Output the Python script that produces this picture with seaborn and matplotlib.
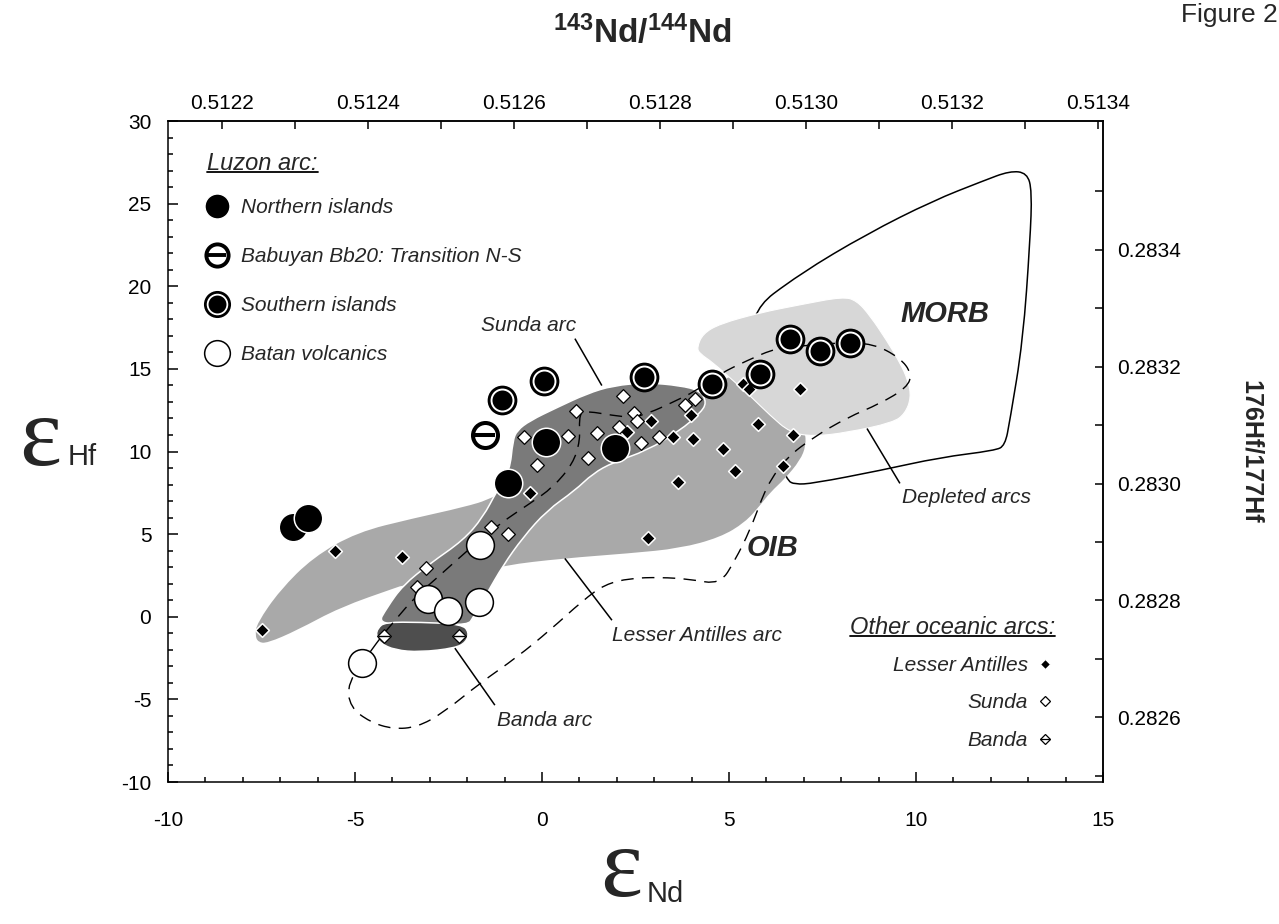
import numpy as np
import pandas as pd
import matplotlib
matplotlib.use("Agg")
import matplotlib.pyplot as plt
import seaborn as sns
from matplotlib.lines import Line2D
from matplotlib.path import Path
from matplotlib.patches import PathPatch
from matplotlib.ticker import MultipleLocator, FixedLocator, FormatStrFormatter
from matplotlib.transforms import IdentityTransform

# ---------------- data (eps Nd, eps Hf) ----------------
CHUR_ND = 0.512638
CHUR_HF = 0.282772

north_end = [-6.66, -6.26, -0.91, 0.11, 1.95]
north_ehf = [5.41, 5.95, 8.07, 10.60, 10.24]
babuyan_end = [-1.52]
babuyan_ehf = [10.97]
south_end = [-1.07, 0.05, 2.73, 4.55, 5.83, 6.63, 7.43, 8.24]
south_ehf = [13.14, 14.29, 14.53, 14.11, 14.71, 16.83, 16.10, 16.59]
batan_end = [-1.66, -3.05, -2.51, -1.68, -4.81]
batan_ehf = [4.32, 1.06, 0.33, 0.88, -2.81]

lant_end = [-7.49, -5.53, -3.74, -0.32, 2.27, 2.91, 3.50, 3.98, 4.04, 4.84,
            5.16, 3.64, 5.37, 5.53, 6.90, 6.71, 6.44, 5.78, 2.83]
lant_ehf = [-0.82, 3.96, 3.60, 7.46, 11.15, 11.87, 10.85, 12.18, 10.73, 10.18,
            8.85, 8.13, 14.11, 13.81, 13.81, 10.97, 9.15, 11.69, 4.74]
sunda_end = [-0.48, -0.13, 0.70, 0.91, 1.23, 1.47, 2.06, 2.17, 2.46, 2.54,
             2.65, 3.13, 3.82, 4.09, -1.36, -0.91, -3.10, -3.34]
sunda_ehf = [10.85, 9.21, 10.91, 12.48, 9.58, 11.09, 11.51, 13.38, 12.30, 11.87,
             10.54, 10.85, 12.84, 13.20, 5.41, 4.98, 2.93, 1.78]
banda_end = [-4.22, -2.22]
banda_ehf = [-1.18, -1.18]

# fields (outline vertices)
morb_x = [6.55, 6.10, 5.83, 5.48, 6.90, 8.69, 10.45, 11.79, 12.51, 12.97, 13.10,
          13.05, 12.86, 12.51, 12.38, 12.11, 10.64, 9.04, 7.25, 6.76]
morb_y = [8.25, 10.66, 14.29, 18.34, 20.76, 23.17, 25.17, 26.37, 26.98, 26.86, 25.77,
          22.75, 16.71, 11.87, 10.36, 10.06, 9.64, 8.85, 8.07, 8.01]
depl_x = [4.14, 4.30, 4.76, 5.83, 6.90, 8.05, 8.42, 8.77, 9.22, 9.57, 9.79, 9.87,
          9.71, 9.39, 8.16, 7.25, 6.63, 6.10, 5.56, 5.11, 4.57, 4.22]
depl_y = [16.28, 17.13, 17.73, 18.40, 18.88, 19.37, 19.12, 18.22, 16.71, 15.38, 14.29, 13.26,
          12.30, 11.75, 11.15, 10.91, 11.15, 12.18, 13.38, 14.29, 15.38, 15.92]
oib_x = [-7.67, -7.62, -7.01, -6.12, -4.95, -3.45, -2.11, -1.31, 0.48, 2.09, 3.69, 4.41,
         4.95, 5.56, 6.63, 7.03, 7.06, 6.90, 6.50, 6.10, 5.83, 5.43, 4.76, 3.69, 2.35,
         0.56, -1.04, -1.93, -3.72, -3.88, -5.40, -6.55, -7.35, -7.59]
oib_y = [-1.12, -0.39, 1.60, 3.60, 5.11, 5.95, 6.62, 7.16, 9.46, 11.57, 13.08, 13.69,
         14.53, 14.77, 13.08, 11.27, 10.36, 9.46, 8.37, 7.52, 6.74, 5.71, 4.80, 4.14, 3.84,
         3.53, 3.11, 2.51, 1.90, 1.78, 0.57, -0.82, -1.60, -1.54]
arc_x = [-4.41, -4.14, -3.72, -2.99, -2.11, -1.58, -1.20, -0.86, -0.78, -0.67, -0.32, 0.40,
         1.20, 1.90, 2.81, 3.69, 4.22, 4.41, 4.22, 3.69, 2.81, 1.90, 1.36, 0.88, 0.13,
         -0.51, -1.04, -1.47, -1.84, -1.98, -2.99]
arc_y = [-0.51, 0.57, 1.90, 3.23, 4.62, 6.01, 7.64, 8.85, 10.66, 11.27, 11.87, 12.66,
         13.50, 13.99, 14.17, 13.99, 13.69, 12.96, 12.30, 11.27, 10.06, 9.34, 8.67, 7.64, 6.43,
         4.80, 3.11, 1.42, -0.03, -0.51, -0.39]
bandaf_x = [-4.39, -4.20, -3.26, -2.14, -1.95, -2.03, -2.33, -3.26, -3.93, -4.33, -4.44]
bandaf_y = [-0.69, -0.33, -0.33, -0.45, -0.94, -1.54, -1.90, -2.14, -2.02, -1.60, -1.12]
dash_x = [-4.52, -5.21, -5.13, -4.60, -3.98, -3.34, -2.65, -1.66, -0.67, 0.21, 1.10, 1.68,
          2.35, 3.16, 3.96, 4.76, 5.16, 5.56, 5.88, 6.10, 6.55, 7.25, 8.16, 9.04, 9.76,
          9.89, 9.57, 8.85, 7.97, 7.09, 6.28, 5.48, 4.76, 4.14, 3.42, 2.89, 2.43, 1.90,
          1.10, 0.99, 1.02, 0.83, 0.29, -0.32, -1.12, -1.93, -2.73, -3.40, -3.93, -4.33]
dash_y = [-1.90, -4.02, -5.47, -6.37, -6.80, -6.68, -5.83, -4.02, -2.45, -0.82, 1.00, 1.96,
          2.33, 2.39, 2.27, 1.96, 3.41, 5.23, 7.16, 8.25, 9.64, 10.85, 12.05, 12.90, 13.87,
          14.71, 15.68, 16.53, 16.59, 16.41, 16.28, 15.50, 14.71, 13.69, 12.90, 12.36, 12.05, 12.18,
          12.48, 12.05, 10.66, 9.27, 7.82, 6.86, 5.65, 4.14, 2.51, 1.18, -0.21, -1.30]

# labels with leader lines
callout_text = ["Sunda arc", "Lesser Antilles arc", "Banda arc", "Depleted arcs"]
callout_tx = [-0.37, 1.87, -1.20, 9.63]
callout_ty = [17.61, -1.12, -6.25, 7.22]
callout_ha = ["center", "left", "left", "left"]
callout_lx = [[0.88, 1.60], [0.61, 1.87], [-2.33, -1.26], [8.69, 9.57]]
callout_ly = [[16.83, 13.99], [3.53, -0.21], [-1.90, -5.35], [11.39, 8.07]]

field_names = ["MORB", "OIB"]
field_tx = [10.78, 6.15]
field_ty = [18.34, 4.14]

nd_major = [0.5122, 0.5124, 0.5126, 0.5128, 0.5130, 0.5132, 0.5134]
nd_minor = [0.5123, 0.5125, 0.5127, 0.5129, 0.5131, 0.5133]
hf_major = [0.2826, 0.2828, 0.2830, 0.2832, 0.2834]
hf_minor = [0.2825, 0.2827, 0.2829, 0.2831, 0.2833, 0.2835]

luzon_labels = ["Northern islands", "Babuyan Bb20: Transition N-S",
                "Southern islands", "Batan volcanics"]
other_labels = ["Lesser Antilles", "Sunda", "Banda"]

# ---------------- style ----------------
sns.set_theme(style="ticks")
plt.rcParams["font.family"] = ["Liberation Sans", "DejaVu Sans"]
plt.rcParams["mathtext.fontset"] = "custom"
plt.rcParams["mathtext.rm"] = "Liberation Sans"
plt.rcParams["mathtext.bf"] = "Liberation Sans:bold"
plt.rcParams["axes.linewidth"] = 1.1
plt.rcParams["axes.edgecolor"] = "black"
plt.rcParams["axes.unicode_minus"] = False
plt.rcParams["xtick.color"] = "black"
plt.rcParams["ytick.color"] = "black"

fig = plt.figure(figsize=(12.79, 9.24), dpi=100)
ax = fig.add_axes([168 / 1279, 1 - 782 / 924, 935 / 1279, 661 / 924])

C_LIGHT, C_MID, C_DARK, C_BANDA = "#d7d7d7", "#a9a9a9", "#7a7a7a", "#4e4e4e"


def smooth_closed(xs, ys):
    """Closed quadratic-Bezier path through the outline vertices (library curve rendering)."""
    P = np.column_stack([xs, ys])
    mids = (P + np.roll(P, -1, axis=0)) / 2
    verts = [mids[-1]]
    codes = [Path.MOVETO]
    for i in range(len(P)):
        verts += [P[i], mids[i]]
        codes += [Path.CURVE3, Path.CURVE3]
    return Path(verts, codes)


def add_field(xs, ys, **kw):
    ax.add_patch(PathPatch(smooth_closed(xs, ys), **kw))


add_field(morb_x, morb_y, facecolor="none", edgecolor="black", lw=1.1, zorder=1)
add_field(oib_x, oib_y, facecolor=C_MID, edgecolor="none", zorder=2)
add_field(depl_x, depl_y, facecolor=C_LIGHT, edgecolor="white", lw=0.8, zorder=3)
add_field(arc_x, arc_y, facecolor=C_DARK, edgecolor="white", lw=1.1, zorder=4)
add_field(bandaf_x, bandaf_y, facecolor=C_BANDA, edgecolor="white", lw=1.1, zorder=5)
add_field(dash_x, dash_y, facecolor="none", edgecolor="black", lw=1.0,
          linestyle=(0, (9, 6)), zorder=6)

for lx, ly in zip(callout_lx, callout_ly):
    ax.plot(lx, ly, color="black", lw=1.1, zorder=6, solid_capstyle="butt")
for t, tx, ty, ha in zip(callout_text, callout_tx, callout_ty, callout_ha):
    ax.text(tx, ty, t, ha=ha, va="center", style="italic", fontsize=15, zorder=9)
for t, tx, ty in zip(field_names, field_tx, field_ty):
    ax.text(tx, ty, t, ha="center", va="center", style="italic", fontweight="bold",
            fontsize=21, zorder=9)

# other oceanic arcs
DS = 7.0
sns.scatterplot(x=lant_end, y=lant_ehf, marker="D", s=DS**2, color="black",
                edgecolor="white", linewidth=1.1, ax=ax, zorder=7)
sns.scatterplot(x=sunda_end, y=sunda_ehf, marker="D", s=DS**2, color="white",
                edgecolor="black", linewidth=0.9, ax=ax, zorder=7)
sns.scatterplot(x=banda_end, y=banda_ehf, marker="D", s=DS**2, color="white",
                edgecolor="black", linewidth=0.9, ax=ax, zorder=7)
sns.scatterplot(x=banda_end, y=banda_ehf, marker="_", s=(DS * 1.3)**2, color="black",
                linewidth=1.0, ax=ax, zorder=7)

# Luzon arc
sns.scatterplot(x=north_end, y=north_ehf, marker="o", s=20.5**2, color="black",
                edgecolor="white", linewidth=1.1, ax=ax, zorder=8)
sns.scatterplot(x=babuyan_end, y=babuyan_ehf, marker="o", s=18**2, color="white",
                edgecolor="black", linewidth=2.9, ax=ax, zorder=8)
sns.scatterplot(x=babuyan_end, y=babuyan_ehf, marker="_", s=15**2, color="black",
                linewidth=2.9, ax=ax, zorder=8)
sns.scatterplot(x=south_end, y=south_ehf, marker="o", s=21.4**2, color="black",
                edgecolor="black", linewidth=0, ax=ax, zorder=8)
sns.scatterplot(x=south_end, y=south_ehf, marker="o", s=15.8**2, color="black",
                edgecolor="white", linewidth=1.4, ax=ax, zorder=8)
sns.scatterplot(x=batan_end, y=batan_ehf, marker="o", s=20**2, color="white",
                edgecolor="black", linewidth=1.1, ax=ax, zorder=8)

# ---------------- axes ----------------
ax.set_xlim(-10, 15)
ax.set_ylim(-10, 30)
ax.set_xlabel("")
ax.set_ylabel("")
ax.xaxis.set_major_locator(MultipleLocator(5))
ax.xaxis.set_minor_locator(MultipleLocator(1))
ax.yaxis.set_major_locator(MultipleLocator(5))
ax.yaxis.set_minor_locator(MultipleLocator(1))
ax.tick_params(which="both", direction="in", width=1.1, top=False, right=False)
ax.tick_params(which="major", length=7, labelsize=15)
ax.tick_params(which="minor", length=3.5)
ax.tick_params(axis="x", pad=21)
ax.tick_params(axis="y", pad=12)
for s in ax.spines.values():
    s.set_visible(True)
    s.set_linewidth(1.1)
    s.set_color("black")


def end_to_nd(e):
    return CHUR_ND * (1 + np.asarray(e) / 1e4)


def nd_to_end(r):
    return (np.asarray(r) / CHUR_ND - 1) * 1e4


def ehf_to_hf(e):
    return CHUR_HF * (1 + np.asarray(e) / 1e4)


def hf_to_ehf(r):
    return (np.asarray(r) / CHUR_HF - 1) * 1e4


secx = ax.secondary_xaxis("top", functions=(end_to_nd, nd_to_end))
secx.xaxis.set_major_locator(FixedLocator(nd_major))
secx.xaxis.set_minor_locator(FixedLocator(nd_minor))
secx.xaxis.set_major_formatter(FormatStrFormatter("%.4f"))
secx.tick_params(which="both", direction="in", length=6, width=1.1, labelsize=15, pad=6)
secx.spines["top"].set_linewidth(1.1)

secy = ax.secondary_yaxis("right", functions=(ehf_to_hf, hf_to_ehf))
secy.yaxis.set_major_locator(FixedLocator(hf_major))
secy.yaxis.set_minor_locator(FixedLocator(hf_minor))
secy.yaxis.set_major_formatter(FormatStrFormatter("%.4f"))
secy.tick_params(which="both", direction="in", length=6, width=1.1, labelsize=15, pad=10)
secy.spines["right"].set_linewidth(1.1)

# ---------------- legends ----------------
h_north = Line2D([], [], ls="none", marker="o", ms=18, mfc="black", mec="white", mew=1)
h_bab = (Line2D([], [], ls="none", marker="o", ms=16, mfc="white", mec="black", mew=2.8),
         Line2D([], [], ls="none", marker="_", ms=13.5, mec="black", mew=2.8))
h_south = (Line2D([], [], ls="none", marker="o", ms=19.5, mfc="black", mec="black", mew=0),
           Line2D([], [], ls="none", marker="o", ms=14.2, mfc="black", mec="white", mew=1.3))
h_batan = Line2D([], [], ls="none", marker="o", ms=18.5, mfc="white", mec="black", mew=1.1)

leg1 = ax.legend([h_north, h_bab, h_south, h_batan], luzon_labels,
                 loc="upper left", bbox_to_anchor=((207 - 168) / 935, 1 - (152 - 121) / 661),
                 frameon=False, prop={"size": 15, "style": "italic"},
                 title="Luzon arc:", title_fontproperties={"size": 17, "style": "italic"},
                 alignment="left", handlelength=1.0, handletextpad=0.65,
                 labelspacing=1.44, borderpad=0, borderaxespad=0, numpoints=1)
leg1._legend_box.sep = 16.6
ax.add_artist(leg1)

h_la = Line2D([], [], ls="none", marker="D", ms=5.4, mfc="black", mec="white", mew=0.8)
h_su = Line2D([], [], ls="none", marker="D", ms=5.4, mfc="white", mec="black", mew=0.9)
h_ba = (Line2D([], [], ls="none", marker="D", ms=5.4, mfc="white", mec="black", mew=0.9),
        Line2D([], [], ls="none", marker="_", ms=7.2, mec="black", mew=0.9))
leg2 = ax.legend([h_la, h_su, h_ba], other_labels,
                 loc="upper right", bbox_to_anchor=((1055 - 168) / 935, 1 - (616 - 121) / 661),
                 frameon=False, prop={"size": 15, "style": "italic"},
                 title="Other oceanic arcs:", title_fontproperties={"size": 17, "style": "italic"},
                 alignment="right", markerfirst=False, handlelength=1.0, handletextpad=0.3,
                 labelspacing=0.89, borderpad=0, borderaxespad=0, numpoints=1)
leg2._legend_box.sep = 12.2

# ---------------- outer labels ----------------
fig.text(642 / 1279, 1 - 43 / 924, r"$\mathbf{^{143}Nd/^{144}Nd}$", ha="center", va="baseline",
         fontsize=24)
fig.text(1278 / 1279, 1 - 22 / 924, "Figure 2", ha="right", va="baseline", fontsize=19)
fig.text(1251 / 1279, 1 - 452 / 924, "176Hf/177Hf", rotation=270, ha="center", va="center",
         fontsize=18, fontweight="bold")
fig.text(19 / 1279, 1 - 465 / 924, "ε", family=["Liberation Serif", "DejaVu Serif"],
         fontsize=72, ha="left", va="baseline")
fig.text(68 / 1279, 1 - 465 / 924, "Hf", fontsize=21, ha="left", va="baseline")
fig.text(600 / 1279, 1 - 896 / 924, "ε", family=["Liberation Serif", "DejaVu Serif"],
         fontsize=72, ha="left", va="baseline")
fig.text(647 / 1279, 1 - 902 / 924, "Nd", fontsize=21, ha="left", va="baseline")

# underline legend titles (derived from the rendered text extents)
fig.canvas.draw()
renderer = fig.canvas.get_renderer()
for lg in (leg1, leg2):
    bb = lg.get_title().get_window_extent(renderer)
    yline = bb.y0 + 3.5
    fig.add_artist(Line2D([bb.x0, bb.x1], [yline, yline], color="black", lw=1.3,
                          transform=IdentityTransform()))

fig.savefig("out.png", dpi=100)
